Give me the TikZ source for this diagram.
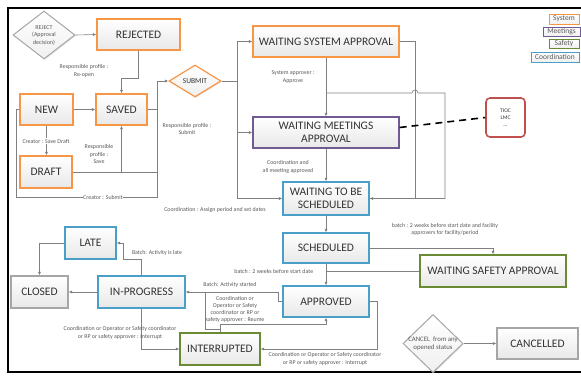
\documentclass[tikz,border=0pt]{standalone}
\usepackage{fontspec}
\setmainfont{Carlito}
\usetikzlibrary{shapes.geometric,arrows.meta,shadows}
\definecolor{orangeC}{HTML}{F79646}
\definecolor{purpleC}{HTML}{6F5A94}
\definecolor{greenC}{HTML}{6A8A34}
\definecolor{blueC}{HTML}{4A9FC9}
\definecolor{greyC}{HTML}{A6A6A6}
\definecolor{redC}{HTML}{C0504D}
\definecolor{lineC}{HTML}{808080}
\definecolor{labC}{HTML}{595959}
\definecolor{boxtxt}{HTML}{333333}
\begin{document}
\begin{tikzpicture}[x=1pt,y=-1pt,
  box/.style={rectangle, top color=white, bottom color=gray!18, line width=1.2pt,
    drop shadow={opacity=0.25, shadow xshift=1pt, shadow yshift=-1pt},
    font=\fontsize{11.5}{13.5}\selectfont, text=boxtxt, inner sep=1pt, align=center},
  sysbox/.style={box, draw=orangeC},
  meetbox/.style={box, draw=purpleC},
  safebox/.style={box, draw=greenC},
  coordbox/.style={box, draw=blueC},
  neutbox/.style={box, draw=greyC},
  diabox/.style={diamond, top color=white, bottom color=gray!12, line width=1pt, inner sep=0pt,
    drop shadow={opacity=0.2, shadow xshift=1pt, shadow yshift=-1pt}},
  dtext/.style={font=\fontsize{6}{7.5}\selectfont, text=labC, align=center, inner sep=0pt},
  lab/.style={font=\fontsize{5.9}{7.2}\selectfont, text=labC, align=center, inner sep=0.6pt},
  labw/.style={lab, fill=white},
  legbox/.style={rectangle, top color=white, bottom color=gray!12, line width=0.8pt,
    font=\fontsize{7.5}{8}\selectfont, text=labC, inner sep=0pt},
  conn/.style={draw=lineC, line width=0.6pt},
  arr/.style={conn, -{Latex[length=3.5pt,width=3pt]}}
]
\useasboundingbox (0,0) rectangle (581,376);
\fill[white] (0,0) rectangle (581,376);
\draw[line width=1.6pt, black] (590,8) -- (8,8) -- (8,372) -- (590,372);

% legend
\node[legbox, draw=orangeC, minimum width=30pt, minimum height=10pt] (legsys) at (564,19) {System};
\node[legbox, draw=purpleC, minimum width=37pt, minimum height=9pt] (legmeet) at (561.5,31.5) {Meetings};
\node[legbox, draw=greenC, minimum width=30pt, minimum height=9pt] (legsafe) at (564,43.5) {Safety};
\node[legbox, draw=blueC, minimum width=48pt, minimum height=10pt] (legcoord) at (555,57) {Coordination};

% nodes
\node[diabox, draw=greyC, minimum width=62pt, minimum height=48pt] (reject) at (44,35) {};
\node[dtext] (rejectT) at (reject.center) {REJECT\\(Approval\\decision)};
\node[sysbox, minimum width=83pt, minimum height=31pt] (rejected) at (138.5,34.5) {REJECTED};
\node[sysbox, minimum width=53pt, minimum height=31pt] (new) at (46.5,109.5) {NEW};
\node[sysbox, minimum width=51pt, minimum height=31pt] (saved) at (121.5,109.5) {SAVED};
\node[sysbox, minimum width=52pt, minimum height=32pt] (draft) at (46,172) {DRAFT};
\node[diabox, draw=orangeC, line width=1.2pt, minimum width=52pt, minimum height=32pt] (submit) at (195,81) {};
\node[dtext, font=\fontsize{7.5}{9}\selectfont, text=boxtxt] (submitT) at (submit.center) {SUBMIT};
\node[sysbox, minimum width=146pt, minimum height=31pt] (wsa) at (326,41.5) {WAITING SYSTEM APPROVAL};
\node[meetbox, minimum width=146pt, minimum height=31pt] (wma) at (326,132.5) {WAITING MEETINGS\\APPROVAL};
\node[coordbox, minimum width=86pt, minimum height=33pt] (wtbs) at (326,198.5) {WAITING TO BE\\SCHEDULED};
\node[coordbox, minimum width=86pt, minimum height=30pt] (sched) at (326,248) {SCHEDULED};
\node[coordbox, minimum width=86pt, minimum height=31pt] (appr) at (326,301.5) {APPROVED};
\node[safebox, minimum width=146pt, minimum height=32pt] (wsafe) at (493,271) {WAITING SAFETY APPROVAL};
\node[diabox, draw=greyC, minimum width=60pt, minimum height=58pt] (cancel) at (433,343.5) {};
\node[dtext, font=\fontsize{6.8}{8.5}\selectfont] (cancelT) at (cancel.center) {CANCEL\ \ from any\\opened status};
\node[neutbox, minimum width=81pt, minimum height=31pt] (cancelled) at (537.5,343.5) {CANCELLED};
\node[safebox, minimum width=80pt, minimum height=32pt] (intr) at (220,349) {INTERRUPTED};
\node[coordbox, minimum width=87pt, minimum height=32pt] (inpr) at (141.5,292) {IN-PROGRESS};
\node[coordbox, minimum width=51pt, minimum height=32pt] (late) at (90.5,243) {LATE};
\node[neutbox, minimum width=57pt, minimum height=32pt] (closed) at (39.5,292) {CLOSED};
\node[rectangle, rounded corners=4pt, draw=redC, line width=1.6pt, fill=white,
  minimum width=39pt, minimum height=39pt, align=center, inner sep=0pt,
  font=\fontsize{5.5}{7}\selectfont, text=boxtxt] (tioc) at (505.5,117.5) {TIOC\\LMC\\...};

% junction coordinates
\coordinate (bus) at (157,81);
\coordinate (sx) at (237,81);
\coordinate (hj) at (326,93);

% connectors
\draw[arr] (reject.east) -- (rejected.west);
\draw[arr] (rejected.south) -- ++(0,28) -| (saved.north);
\draw[arr] (new.east) -- (saved.west);
\draw[arr] (new.south) -- (new.south |- draft.north);
\draw[arr] (draft.east) -| (saved.south);
\draw[conn] (saved.south |- draft.east) -- (bus |- draft.east);
\draw[arr] (saved.east) -- (bus |- saved.east) -- (bus) -- (submit.west);
\draw[conn] (new.west) -- (16,109.5) -- (16,197) -- (157,197) -- (bus |- saved.east);
\draw[conn] (submit.east) -- (sx);
\draw[arr] (sx) |- (wsa.west);
\draw[arr] (sx) |- (wma.west);
\draw[arr] (sx) |- (wtbs.west);
\draw[arr] (wsa.south) -- (wma.north);
\draw[conn] (wsa.east) -- (415,41.5) |- (wtbs.east);
\draw[arr] (hj) -- (412,93) .. controls (412,89) and (418,89) .. (418,93) -- (445,93) |- (wtbs.east);
\draw[arr] (wma.south) -- (wtbs.north);
\draw[arr] (wtbs.south) -- (sched.north);
\draw[arr] (sched.east) -| (wsafe.north);
\draw[arr] (sched.south) -- (appr.north);
\draw[conn] (wsafe.west) -- (sched.south |- wsafe.west);
\draw[arr] (appr.west) -- (278,301.5) -- (278,292) -- (inpr.east);
\draw[arr] (appr.east) -- (377,301.5) |- (intr.east);
\draw[arr] (intr.north) -- (220,324) -| (appr.south);
\draw[conn] (220,329) -- (205,329) -- (205,292);
\draw[arr] (inpr.south) |- (intr.west);
\draw[arr] (inpr.north) -- (141.5,259) -- (123,259) |- (late.east);
\draw[arr] (late.west) -| (closed.north);
\draw[arr] (inpr.west) -- (closed.east);
\draw[arr] (cancel.east) -- (cancelled.west);
\draw[black, line width=1.6pt, dash pattern=on 7pt off 5pt] ([yshift=5pt]wma.east) -- (tioc.west);

% labels
\node[lab] (l1) at (84,71) {Responsible profile :\\Re-open};
\node[labw] (l2) at (46,141) {Creator : Save Draft};
\node[lab] (l3) at (99,154) {Responsible\\profile :\\Save};
\node[labw] (l4) at (103,197) {Creator : Submit};
\node[lab] (l5) at (187,129) {Responsible profile :\\Submit};
\node[lab] (l6) at (215,210) {Coordination : Assign period and set dates};
\node[lab] (l7) at (293,77) {System approver :\\Approve};
\node[lab] (l8) at (288,167) {Coordination and\\all meeting approved};
\node[lab] (l9) at (445,229.5) {batch : 2 weeks before start date and facility\\approvers for facility/period};
\node[lab, anchor=east] (l10) at (314,271) {batch : 2 weeks before start date};
\node[lab] (l11) at (230,285) {Batch: Activity started};
\node[lab] (l12) at (235,309.5) {Coordination or\\Operator or Safety\\coordinator or RP or\\safety approver : Reume};
\node[lab] (l13) at (325,359) {Coordination or Operator or Safety coordinator\\or RP or safety approver : Interrupt};
\node[lab] (l14) at (120,333) {Coordination or Operator or Safety coordinator\\or RP or safety approver : Interrupt};
\node[lab] (l15) at (157,253) {Batch: Activity is late};
\end{tikzpicture}
\end{document}
